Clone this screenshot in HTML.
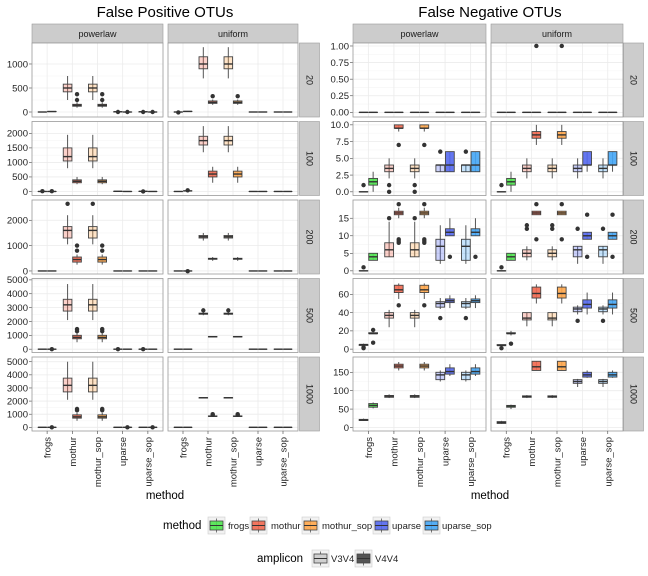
<!DOCTYPE html>
<html><head><meta charset="utf-8">
<style>
html,body{margin:0;padding:0;background:#fff;}
svg{display:block;font-family:"Liberation Sans",sans-serif;}
</style></head>
<body>
<svg id="chart" width="648" height="576" viewBox="0 0 648 576"></svg>
<script>
// ---------- DATA ----------
const methods = ["frogs","mothur","mothur_sop","uparse","uparse_sop"];
const amplicons = ["V3V4","V4V4"];
const depths = ["20","100","200","500","1000"];
const distributions = ["powerlaw","uniform"];
const methodColors = ["#4ee44e","#f2684f","#ffa64a","#5468ee","#45a6f5"];
// box: [lowWhisker, q1, median, q3, highWhisker, [outliers]]
const fpPowerlaw = [
 [[[0,0,0,0,0,[]],[5,8,10,12,15,[]]],[[250,420,500,580,750,[]],[90,120,140,160,200,[250,370]]],[[250,420,500,580,750,[]],[90,120,140,160,200,[250,370]]],[[0,0,5,5,10,[0]],[0,0,0,0,0,[0]]],[[0,0,5,5,10,[0]],[0,0,0,0,0,[0]]]],
 [[[0,0,0,0,0,[10]],[0,0,0,0,0,[10]]],[[800,1050,1200,1500,1950,[]],[250,300,350,400,500,[]]],[[800,1050,1200,1500,1950,[]],[250,300,350,400,500,[]]],[[0,0,5,5,10,[]],[0,0,0,0,0,[]]],[[0,0,5,5,10,[0]],[0,0,0,0,0,[]]]],
 [[[0,0,0,0,0,[]],[0,0,0,0,0,[]]],[[1050,1300,1600,1750,2200,[2650]],[250,350,450,550,650,[800,1000]]],[[1050,1300,1600,1750,2200,[2650]],[250,350,450,550,650,[800,1000]]],[[0,0,0,0,0,[]],[0,0,0,0,0,[]]],[[0,0,0,0,0,[]],[0,0,0,0,0,[]]]],
 [[[0,0,0,0,0,[]],[0,0,0,0,0,[0]]],[[2100,2750,3200,3600,4700,[]],[500,750,850,1000,1150,[1300,1450]]],[[2100,2750,3200,3600,4700,[]],[500,750,850,1000,1150,[1300,1450]]],[[0,0,0,0,0,[0]],[0,0,0,0,0,[]]],[[0,0,0,0,0,[0]],[0,0,0,0,0,[]]]],
 [[[0,0,0,0,0,[]],[0,0,0,0,0,[0]]],[[2100,2700,3200,3750,5000,[]],[500,700,800,950,1100,[1300,1400]]],[[2100,2700,3200,3750,5000,[]],[500,700,800,950,1100,[1300,1400]]],[[0,0,0,0,0,[]],[0,0,0,0,0,[0]]],[[0,0,0,0,0,[]],[0,0,0,0,0,[0]]]]
];
const fpUniform = [
 [[[0,0,0,0,0,[-10]],[10,10,12,14,15,[]]],[[700,900,1000,1150,1350,[]],[150,180,200,230,260,[330]]],[[700,900,1000,1150,1350,[]],[150,180,200,230,260,[330]]],[[0,0,0,0,0,[]],[0,0,0,0,0,[]]],[[0,0,0,0,0,[]],[0,0,0,0,0,[]]]],
 [[[0,0,0,0,0,[]],[20,20,20,20,20,[40]]],[[1350,1600,1750,1900,2250,[]],[300,500,600,700,850,[]]],[[1350,1600,1750,1900,2250,[]],[300,500,600,700,850,[]]],[[0,0,0,0,0,[]],[0,0,0,0,0,[]]],[[0,0,0,0,0,[]],[0,0,0,0,0,[]]]],
 [[[0,0,0,0,0,[]],[0,0,0,0,0,[-10]]],[[1200,1300,1350,1400,1500,[]],[400,460,480,500,550,[]]],[[1200,1300,1350,1400,1500,[]],[400,460,480,500,550,[]]],[[0,0,0,0,0,[]],[0,0,0,0,0,[]]],[[0,0,0,0,0,[]],[0,0,0,0,0,[]]]],
 [[[0,0,0,0,0,[]],[0,0,0,0,0,[]]],[[2450,2520,2560,2600,2650,[2800]],[850,880,900,920,950,[]]],[[2450,2520,2560,2600,2650,[2800]],[850,880,900,920,950,[]]],[[0,0,0,0,0,[]],[0,0,0,0,0,[]]],[[0,0,0,0,0,[]],[0,0,0,0,0,[]]]],
 [[[0,0,0,0,0,[]],[0,0,0,0,0,[]]],[[2200,2230,2250,2270,2300,[]],[800,830,850,870,900,[950,1000]]],[[2200,2230,2250,2270,2300,[]],[800,830,850,870,900,[950,1000]]],[[0,0,0,0,0,[]],[0,0,0,0,0,[]]],[[0,0,0,0,0,[]],[0,0,0,0,0,[]]]]
];
const fnPowerlaw = [
 [[[0,0,0,0,0,[]],[0,0,0,0,0,[]]],[[0,0,0,0,0,[]],[0,0,0,0,0,[]]],[[0,0,0,0,0,[]],[0,0,0,0,0,[]]],[[0,0,0,0,0,[]],[0,0,0,0,0,[]]],[[0,0,0,0,0,[]],[0,0,0,0,0,[]]]],
 [[[0,0,0,0,0,[1]],[0,1,1.5,2,3,[]]],[[2,3,3.5,4,5,[1,0]],[9,9.5,9.5,10,10,[7]]],[[2,3,3.5,4,5,[1,0]],[9,9.5,9.5,10,10,[7]]],[[3,3,4,4,4,[6]],[3,3,4,6,6,[]]],[[3,3,4,4,4,[6]],[3,3,4,6,6,[]]]],
 [[[0,0,0,0,0,[1]],[3,3,4,5,5,[]]],[[4,4,6,8,14,[15]],[15,16,16.5,17,18,[19,9,8.5,8]]],[[4,4,6,8,14,[15]],[15,16,16.5,17,18,[19,9,8.5,8]]],[[2,3,7,9,13,[]],[10,10,11,12,15,[4]]],[[2,3,7,9,13,[]],[10,10,11,12,15,[4]]]],
 [[[3,4,5,5,6,[1,2]],[17,17,17,18,20,[21,7]]],[[24,34,37,40,43,[]],[55,62,65,70,72,[48]]],[[24,34,37,40,43,[]],[55,62,65,70,72,[48]]],[[44,46,50,52,56,[34]],[45,51,53,55,59,[]]],[[44,46,50,52,56,[34]],[45,51,53,55,59,[]]]],
 [[[18,19,20,22,24,[]],[52,55,60,65,68,[]]],[[80,82,85,87,90,[]],[155,162,167,172,178,[]]],[[80,82,85,87,90,[]],[155,162,167,172,178,[]]],[[125,130,143,150,155,[]],[140,145,152,162,172,[]]],[[125,130,143,150,155,[]],[140,145,152,162,172,[]]]]
];
const fnUniform = [
 [[[0,0,0,0,0,[]],[0,0,0,0,0,[]]],[[0,0,0,0,0,[]],[0,0,0,0,0,[1]]],[[0,0,0,0,0,[]],[0,0,0,0,0,[1]]],[[0,0,0,0,0,[]],[0,0,0,0,0,[]]],[[0,0,0,0,0,[]],[0,0,0,0,0,[]]]],
 [[[0,0,0,0,0,[1]],[0,1,1.5,2,3,[]]],[[2,3,3.5,4,5,[]],[7,8,8.5,9,10,[]]],[[2,3,3.5,4,5,[]],[7,8,8.5,9,10,[]]],[[2,3,3.5,4,5,[]],[3,4,4,6,6,[]]],[[2,3,3.5,4,5,[]],[3,4,4,6,6,[]]]],
 [[[0,0,0,0,0,[1]],[3,3,4,5,5,[]]],[[3,4,5,6,7,[12,13]],[16,16,16.5,17,17,[19,9]]],[[3,4,5,6,7,[12,13]],[16,16,16.5,17,17,[19,9]]],[[2,4,6,7,7,[12]],[9,9,10,11,11,[16,4]]],[[2,4,6,7,7,[12]],[9,9,10,11,11,[16,4]]]],
 [[[3,4,4,5,5,[1]],[15,17,17,18,20,[6]]],[[25,32,34,40,40,[]],[50,56,61,68,71,[]]],[[25,32,34,40,40,[]],[50,56,61,68,71,[]]],[[38,41,44,46,48,[31]],[38,45,49,54,62,[]]],[[38,41,44,46,48,[31]],[38,45,49,54,62,[]]]],
 [[[10,11,13,16,18,[]],[50,55,58,60,62,[]]],[[80,82,84,86,88,[]],[155,155,165,180,180,[]]],[[80,82,84,86,88,[]],[155,155,165,180,180,[]]],[[110,120,125,130,132,[]],[135,137,143,150,155,[]]],[[110,120,125,130,132,[]],[135,137,143,150,155,[]]]]
];
const fpTicks = [[0,500,1000],[0,500,1000,1500,2000],[0,1000,2000],[0,1000,2000,3000,4000,5000],[0,1000,2000,3000,4000,5000]];
const fnTicks = [[0,0.25,0.5,0.75,1],[0,2.5,5,7.5,10],[0,5,10,15],[0,20,40,60],[0,50,100,150]];
const fpTickLabels = [["0","500","1000"],["0","500","1000","1500","2000"],["0","1000","2000"],["0","1000","2000","3000","4000","5000"],["0","1000","2000","3000","4000","5000"]];
const fnTickLabels = [["0.00","0.25","0.50","0.75","1.00"],["0.0","2.5","5.0","7.5","10.0"],["0","5","10","15"],["0","20","40","60"],["0","50","100","150"]];
const fpDomains = [[-104,1437],[-139,2409],[-120,2800],[-240,5100],[-280,5360]];
const fnDomains = [[-0.07,1.045],[-0.55,10.5],[-0.9,20.2],[-3.7,77.4],[-9.6,191.6]];

// ---------- DRAW ----------
const NS = "http://www.w3.org/2000/svg";
const svg = document.getElementById("chart");
function mk(tag, attrs, parent){
  const e = document.createElementNS(NS, tag);
  for (const k in attrs) e.setAttribute(k, attrs[k]);
  (parent||svg).appendChild(e);
  return e;
}
const rowTop = [43,121.5,200,278.5,357];
const rowH = 74;

function drawPlot(cfg){
  const g = mk("g", {});
  
  
  const t = mk("text", {x:cfg.titleX, y:17, "text-anchor":"middle", "font-size":"15", fill:"#000"}, g);
  t.textContent = cfg.title;
  
  
  // top strips
  cfg.cols.forEach((c, ci)=>{
    const s = mk("rect", {x:c[0], y:24, width:c[1]-c[0], height:19, fill:"#cccccc", stroke:"#999", "stroke-width":0.6}, g);
    
    
    const st = mk("text", {x:(c[0]+c[1])/2, y:37, "text-anchor":"middle", "font-size":"9", fill:"#1a1a1a"}, g);
    st.textContent = distributions[ci];
  });
  depths.forEach((d, ri)=>{
    const top = rowTop[ri], bot = top + rowH;
    const dom = cfg.domains[ri];
    const ys = v => bot - (v - dom[0]) / (dom[1]-dom[0]) * rowH;
    // right strip
    const rs = mk("rect", {x:cfg.stripX, y:top, width:20, height:rowH, fill:"#cccccc", stroke:"#999", "stroke-width":0.6}, g);
    
    
    const rt = mk("text", {x:0, y:0, "text-anchor":"middle", "font-size":"9", fill:"#1a1a1a", transform:`translate(${cfg.stripX+7},${top+rowH/2}) rotate(90)`}, g);
    rt.textContent = d;
    // y ticks
    const ticks = cfg.ticks[ri];
    ticks.forEach((tv, ti)=>{
      const y = ys(tv);
      mk("line", {x1:cfg.cols[0][0]-3, x2:cfg.cols[0][0], y1:y, y2:y, stroke:"#444", "stroke-width":0.6}, g);
      const tl = mk("text", {x:cfg.cols[0][0]-4, y:y+3.3, "text-anchor":"end", "font-size":"9.5", fill:"#222"}, g);
      tl.textContent = cfg.tickLabels[ri][ti];
      
      
    });
    cfg.cols.forEach((c, ci)=>{
      const x0 = c[0], x1 = c[1], w = x1-x0;
      const unit = w/5.2;
      const xc = i => x0 + (0.6 + i)*unit;
      const p = mk("rect", {x:x0, y:top, width:w, height:rowH, fill:"#fff"}, g);
      
      
      // grid
      for (let k=0;k<ticks.length;k++){
        const y = ys(ticks[k]);
        mk("line", {x1:x0, x2:x1, y1:y, y2:y, stroke:"#ebebeb", "stroke-width":0.8}, g);
        if (k < ticks.length-1){
          const ym = ys((ticks[k]+ticks[k+1])/2);
          mk("line", {x1:x0, x2:x1, y1:ym, y2:ym, stroke:"#f5f5f5", "stroke-width":0.6}, g);
        }
      }
      methods.forEach((m, mi)=>{
        mk("line", {x1:xc(mi), x2:xc(mi), y1:top, y2:bot, stroke:"#ebebeb", "stroke-width":0.8}, g);
      });
      const data = cfg.data[ci][ri];
      const bw = unit*0.375;
      methods.forEach((m, mi)=>{
        amplicons.forEach((a, ai)=>{
          const b = data[mi][ai];
          const cx = xc(mi) + (ai===0 ? -bw/2 : bw/2);
          const bg = mk("g", {}, g);
          
          
          mk("line", {x1:cx, x2:cx, y1:ys(b[0]), y2:ys(b[4]), stroke:"#555", "stroke-width":1}, bg);
          const q3y = ys(b[3]), q1y = ys(b[1]);
          mk("rect", {x:cx-bw/2+0.4, y:q3y, width:bw-0.8, height:Math.max(q1y-q3y,0.01), fill:methodColors[mi], "fill-opacity":ai===0?0.3:0.9, stroke:"#444", "stroke-width":0.9}, bg);
          mk("line", {x1:cx-bw/2+0.4, x2:cx+bw/2-0.4, y1:ys(b[2]), y2:ys(b[2]), stroke:"#333", "stroke-width":1.4}, bg);
          b[5].forEach(o=>{
            mk("circle", {cx:cx, cy:ys(o), r:2.2, fill:"#333"}, bg);
          });
        });
      });
      mk("rect", {x:x0, y:top, width:w, height:rowH, fill:"none", stroke:"#999", "stroke-width":0.8}, g);
      if (ri === 4){
        methods.forEach((m, mi)=>{
          mk("line", {x1:xc(mi), x2:xc(mi), y1:bot, y2:bot+3, stroke:"#444", "stroke-width":0.6}, g);
          const xl = mk("text", {x:0, y:0, "text-anchor":"end", "font-size":"9.5", fill:"#222", transform:`translate(${xc(mi)+3.5},${bot+6}) rotate(-90)`}, g);
          xl.textContent = m;
          
          
        });
      }
    });
  });
  const xt = mk("text", {x:cfg.titleX, y:499, "text-anchor":"middle", "font-size":"11.5", fill:"#000"}, g);
  xt.textContent = "method";
  
  
}

drawPlot({name:"false-positive-plot", title:"False Positive OTUs", titleX:165, cols:[[32,163],[168,298]], stripX:299.5,
  data:[fpPowerlaw, fpUniform], ticks:fpTicks, tickLabels:fpTickLabels, domains:fpDomains});
drawPlot({name:"false-negative-plot", title:"False Negative OTUs", titleX:490, cols:[[353,486],[491,623]], stripX:623.5,
  data:[fnPowerlaw, fnUniform], ticks:fnTicks, tickLabels:fnTickLabels, domains:fnDomains});

// legends
function legendKey(x, y, color, op){
  const k = mk("g", {});
  mk("rect", {x:x, y:y, width:17, height:17, fill:"#f2f2f2", stroke:"#ccc", "stroke-width":0.6}, k);
  mk("line", {x1:x+8.5, x2:x+8.5, y1:y+1.5, y2:y+15.5, stroke:"#555", "stroke-width":0.8}, k);
  mk("rect", {x:x+2, y:y+4, width:13, height:9, fill:color, "fill-opacity":op, stroke:"#444", "stroke-width":0.8}, k);
  mk("line", {x1:x+2, x2:x+15, y1:y+8.5, y2:y+8.5, stroke:"#333", "stroke-width":1}, k);
  return k;
}
const lm = mk("text", {x:163, y:529, "font-size":"11.5", fill:"#000"});
lm.textContent = "method";


const keyX = [208,250,302,373,423];
const txtX = [228,271,322,392,442];
methods.forEach((m, i)=>{
  const k = legendKey(keyX[i], 517, methodColors[i], 0.9);
  
  
  const t = mk("text", {x:txtX[i], y:529, "font-size":"9.5", fill:"#222"});
  t.textContent = m;
});
const la = mk("text", {x:257, y:562, "font-size":"11.5", fill:"#000"});
la.textContent = "amplicon";


const ampKeyX = [312,355], ampTxtX = [331,375], ampColors = ["#d0d0d0","#555555"];
amplicons.forEach((a, i)=>{
  const k = legendKey(ampKeyX[i], 550, ampColors[i], 1);
  
  
  const t = mk("text", {x:ampTxtX[i], y:562, "font-size":"9.5", fill:"#222"});
  t.textContent = a;
});
</script>
</body></html>
